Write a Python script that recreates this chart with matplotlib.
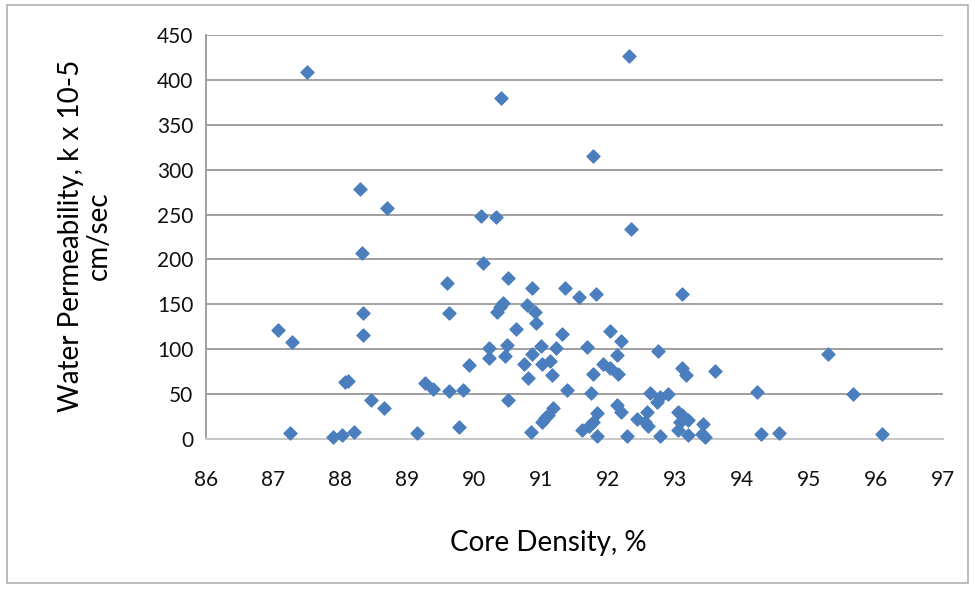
import matplotlib.pyplot as plt
from matplotlib.patches import Rectangle

# core density (%) and water permeability (k x 10-5 cm/sec)
density = [
    87.51, 87.07, 87.28, 87.25, 87.90, 88.03, 88.21, 88.07, 88.12, 88.30,
    88.33, 88.70, 88.34, 88.34, 88.46, 88.66, 89.15, 89.27, 89.39, 89.59,
    89.63, 89.63, 89.77, 89.84, 89.93, 90.11, 90.33, 90.14, 90.41, 90.23,
    90.23, 90.34, 90.39, 90.43, 90.46, 90.49, 90.50, 90.50, 90.62, 90.74,
    90.79, 90.81, 90.85, 90.86, 90.86, 90.91, 90.93, 91.00, 91.01, 91.01,
    91.06, 91.11, 91.18, 91.13, 91.17, 91.23, 91.31, 91.36, 91.39, 91.56,
    91.61, 91.68, 91.71, 91.75, 91.78, 91.78, 91.78, 91.82, 91.83, 91.83,
    91.93, 92.03, 92.03, 92.14, 92.15, 92.14, 92.19, 92.20, 92.28, 92.32,
    92.35, 92.43, 92.55, 92.58, 92.60, 92.63, 92.73, 92.74, 92.78, 92.78,
    92.89, 93.05, 93.07, 93.05, 93.10, 93.11, 93.11, 93.17, 93.20, 93.20,
    93.42, 93.40, 93.45, 93.60, 94.22, 94.28, 94.55, 95.29, 95.66, 96.09,
]
permeability = [
    409, 121, 108, 7, 2, 4, 8, 63, 65, 278,
    207, 257, 140, 116, 43, 35, 7, 62, 56, 174,
    140, 53, 13, 55, 82, 248, 247, 196, 380, 101,
    90, 142, 147, 151, 93, 105, 179, 44, 122, 84,
    149, 68, 8, 168, 95, 142, 129, 104, 83, 19,
    23, 27, 35, 87, 71, 101, 117, 168, 55, 158,
    10, 103, 14, 51, 72, 19, 315, 162, 29, 3,
    84, 120, 79, 94, 72, 38, 109, 30, 3, 427,
    234, 22, 19, 30, 14, 51, 41, 98, 47, 3,
    50, 30, 19, 10, 27, 161, 79, 71, 21, 4,
    17, 6, 2, 76, 52, 6, 7, 95, 50, 6,
]

x_ticks = list(range(86, 98))
y_ticks = list(range(0, 451, 50))

plt.rcParams["font.family"] = ["Lato", "DejaVu Sans"]

fig = plt.figure(figsize=(9.75, 5.9), dpi=100)
fig.patches.append(Rectangle((0.007, 0.012), 0.986, 0.979, transform=fig.transFigure,
                             fill=False, edgecolor="#b0b0b0", linewidth=1.2))

ax = fig.add_axes([0.2113, 0.2559, 0.7559, 0.6848])
ax.scatter(density, permeability, marker="D", s=46, color="#4A7EBD",
           edgecolors="#4A7EBD", linewidths=0.8, zorder=3, clip_on=False)

ax.set_xlim(86, 97)
ax.set_ylim(0, 450)
ax.set_xticks(x_ticks)
ax.set_yticks(y_ticks)
ax.grid(axis="y", color="#a0a0a0", linewidth=1.4)
ax.set_axisbelow(True)
for side in ("top", "right"):
    ax.spines[side].set_visible(False)
ax.spines["left"].set_color("#a0a0a0")
ax.spines["left"].set_linewidth(1.4)
ax.spines["bottom"].set_color("#c8c8c8")
ax.spines["bottom"].set_linewidth(1.4)
ax.tick_params(length=0, labelsize=15, pad=9, labelcolor="#111111")
ax.tick_params(axis="x", pad=22)

fig.text(0.562, 1 - 543 / 590, "Core Density, %", ha="center", va="center", fontsize=20)
fig.text(0.087, 1 - 236 / 590, "Water Permeability, k x 10-5\ncm/sec", ha="center",
         va="center", rotation=90, fontsize=20, linespacing=1.12)

fig.savefig("out.png", dpi=100)
